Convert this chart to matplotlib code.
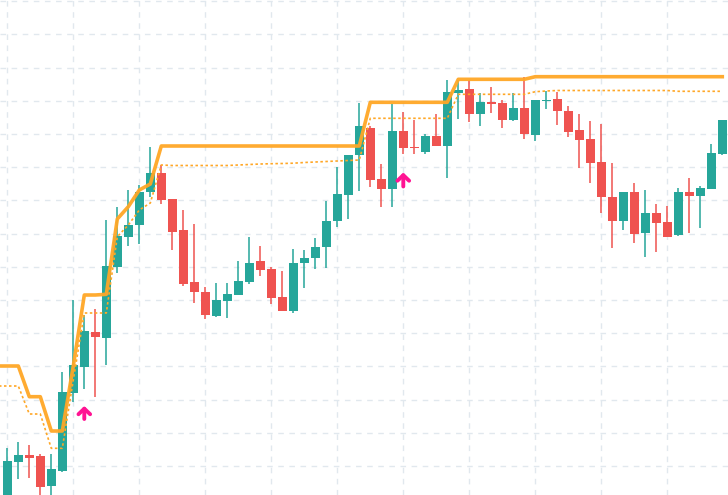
import numpy as np
import matplotlib
matplotlib.use("Agg")
import matplotlib.pyplot as plt

# ---- data (price units) ----
opens = [-5, 33.3, 40, 39, 9.3, 24.3, 102.3, 128.3, 163.3, 157.3,
         228.3, 258.3, 270, 303.3, 322.3, 296, 265, 213.3, 203, 179.3,
         194.3, 200.3, 213, 233.7, 226, 198, 184.3, 232.3, 237.3, 248.3,
         274, 300, 340, 367.3, 316, 306, 364, 348.3, 343.3, 359,
         349.3, 402.3, 406, 381.3, 393, 392, 375, 387, 360.3, 394.3,
         396, 384, 365, 356, 333.3, 298, 274.3, 303, 262, 282,
         273, 260.3, 303, 299.3, 306.3, 341.3]
highs = [47.3, 52.7, 50, 41, 41, 122.7, 195, 180, 186, 275,
         288.3, 305, 310, 348.3, 330, 296, 285, 271, 208, 212,
         212, 234, 258, 249, 228, 224, 246, 245, 257.3, 294,
         328, 340, 392.3, 369.3, 331, 391, 383, 375, 361, 381,
         415, 415, 415, 402, 408, 395, 402, 418.3, 395, 404,
         403, 389, 381, 374, 371, 332, 303, 312, 305, 291,
         289, 307, 317, 309, 351, 375]
lows = [-10, 16, 17.3, -2, -2, 23, 93.3, 106, 98.3, 130,
        221.7, 249, 251, 297.7, 291, 245, 209.3, 192.3, 176.3, 178.3,
        177.3, 200.3, 210.7, 219.3, 191.3, 184.3, 181.7, 206.7, 225.7, 227.3,
        268.3, 276, 304, 308, 288.3, 288.3, 341.3, 341.3, 341.3, 349.3,
        317.3, 376.3, 373.3, 369.3, 382.3, 367.3, 374, 356.3, 354.3, 386.3,
        370.3, 358.3, 327.3, 312.3, 282.3, 247.3, 265.3, 252.3, 238.3, 243.3,
        258.3, 259.3, 262.3, 267.3, 306.3, 340.3]
closes = [34, 40, 37.3, 8.3, 26, 103, 130, 164, 158.3, 229,
          259, 270, 303.3, 322.3, 295, 263.3, 211, 203.3, 180.3, 195,
          201, 214, 232, 225.3, 197.3, 184.3, 232, 237.3, 248, 274,
          301, 340, 369, 315, 306, 364, 347.3, 347.3, 359, 349.3,
          403, 405, 381.3, 393, 391.3, 375, 387, 361.3, 395, 395,
          384.3, 363.3, 355.3, 332.3, 298.3, 274.3, 303, 261.3, 282, 272.3,
          258.3, 303, 299.3, 307, 342, 375]

# indicator lines start one bar before the first visible candle
trail_line = [129, 129, 129, 98.3, 98.3, 64, 64, 129, 200, 200, 200.7,
              276, 288.3, 305, 311, 349, 349, 349, 349, 349, 349,
              349, 349, 349, 349, 349, 349, 349, 349, 349, 349,
              349, 349, 349, 392.7, 392.7, 392.7, 392.7, 392.7, 392.7, 392.7,
              392.7, 415.7, 415.7, 415.7, 415.7, 415.7, 415.7, 415.7, 418.3, 418.3,
              418.3, 418.3, 418.3, 418.3, 418.3, 418.3, 418.3, 418.3, 418.3, 418.3,
              418.3, 418.3, 418.3, 418.3, 418.3, 418.3]
dotted_line = [109, 109, 109, 81, 81, 46.7, 46.7, 115, 182, 182, 182,
               258.3, 270, 285, 292, 330, 329.5, 329.5, 329.5, 329.5, 329.5,
               329.5, 330, 330.5, 331, 331.3, 331.5, 331.8, 332.5, 333, 333.5,
               334, 334.5, 335, 376.7, 376.7, 376.7, 376.7, 376.7, 376.7, 376.7,
               376.7, 400.7, 400.7, 400.7, 400.7, 400.7, 400.7, 400.7, 403.3, 404,
               404.5, 404.5, 404.5, 404.5, 404.5, 404.5, 404.5, 404.5, 404.5, 404.5,
               404.5, 403.7, 403.7, 403.7, 403.7, 403.7]

signal_idx = [7, 36]
signal_tip = [89, 322.5]
signal_base = [76, 308.5]

# ---- style ----
UP = '#26a69a'
DOWN = '#ef5350'
ORANGE = '#ffa726'
PINK = '#ff1493'
GRID = '#e1e8ee'

fig = plt.figure(figsize=(7.28, 4.95), dpi=100)
ax = fig.add_axes([0, 0, 1, 1])
ax.set_facecolor('white')

n = len(opens)
x = np.arange(n)
o = np.array(opens); h = np.array(highs); l = np.array(lows); c = np.array(closes)
up = c >= o
colors = np.where(up, UP, DOWN)

ax.vlines(x, l, h, colors=colors, linewidth=1.1, zorder=2)
ax.bar(x, np.abs(c - o).clip(min=1.2), bottom=np.minimum(o, c), width=0.82,
       color=colors, linewidth=0, zorder=3)

xl = np.arange(-1, n)
ax.plot(xl, trail_line, color=ORANGE, lw=2.6, alpha=0.95, zorder=5,
        solid_joinstyle='round')
ax.plot(xl, dotted_line, color=ORANGE, lw=1.2, linestyle=(0, (1.5, 1.5)),
        zorder=5)

for i, t, b in zip(signal_idx, signal_tip, signal_base):
    ax.annotate('', xy=(i, t), xytext=(i, b),
                arrowprops=dict(arrowstyle='->, head_width=0.42, head_length=0.4',
                                color=PINK, lw=2.8, shrinkA=0, shrinkB=0),
                zorder=6)

ax.set_xlim(-0.664, 65.52)
ax.set_ylim(0, 495)
ax.set_xticks(np.arange(0, n, 6))
ax.set_yticks(np.arange(29, 495, 33.2))
ax.grid(True, color=GRID, linestyle=(0, (4, 4)), linewidth=1.0, zorder=0)
ax.set_axisbelow(True)
ax.tick_params(length=0, labelbottom=False, labelleft=False)
for s in ax.spines.values():
    s.set_visible(False)

fig.savefig('out.png', dpi=100, facecolor='white')
